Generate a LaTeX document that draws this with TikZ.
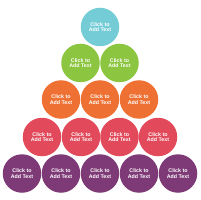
\documentclass[tikz,border=0pt]{standalone}
\usepackage{fontspec}
\setmainfont{Liberation Sans}
\definecolor{ccyan}{HTML}{74CDD6}
\definecolor{cgreen}{HTML}{8CC540}
\definecolor{corange}{HTML}{EE7133}
\definecolor{cred}{HTML}{E2495A}
\definecolor{cpurple}{HTML}{7E3A76}
\tikzset{
  ball/.style={circle, minimum size=38.5pt, inner sep=0pt, text=white, align=center,
    font=\bfseries\fontsize{5.3}{5.6}\selectfont},
}
\begin{document}
\begin{tikzpicture}[x=1pt,y=-1pt]
\useasboundingbox (0,0) rectangle (200,200);
\node[ball, fill=ccyan] (t1) at (100,27) {Click to\\Add Text};
\node[ball, fill=cgreen] (g1) at (80.5,63) {Click to\\Add Text};
\node[ball, fill=cgreen] (g2) at (119.5,63) {Click to\\Add Text};
\foreach \i/\x in {1/61,2/100,3/139}
  \node[ball, fill=corange] (o\i) at (\x,99.5) {Click to\\Add Text};
\foreach \i/\x in {1/42,2/81,3/119.5,4/158}
  \node[ball, fill=cred] (r\i) at (\x,137) {Click to\\Add Text};
\foreach \i/\x in {1/22,2/61,3/100,4/139,5/178}
  \node[ball, fill=cpurple] (p\i) at (\x,173.5) {Click to\\Add Text};
\end{tikzpicture}
\end{document}
